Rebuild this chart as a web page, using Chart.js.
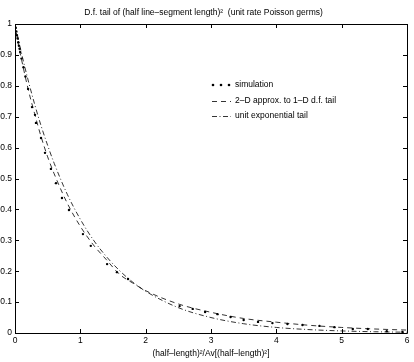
<!DOCTYPE html>
<html>
<head>
<meta charset="utf-8">
<script src="https://cdn.jsdelivr.net/npm/chart.js@4/dist/chart.umd.min.js"></script>
<style>
  html, body { margin: 0; padding: 0; background: #fff; }
</style>
</head>
<body>
<canvas id="chart" width="414" height="362"></canvas>
<script>
// values
const simX = [0, 0.01, 0.02, 0.03, 0.04, 0.05, 0.06, 0.07, 0.08, 0.10, 0.13, 0.16, 0.20,
  0.26, 0.306, 0.321, 0.398, 0.459, 0.55, 0.627, 0.719, 0.826, 1.04, 1.16, 1.41, 1.56, 1.73,
  2.52, 2.72, 2.91, 3.10, 3.30, 3.50, 3.72, 3.94, 4.17, 4.40, 4.66, 4.89, 5.17, 5.40, 5.69, 5.93];
const simY = [1, 0.988, 0.976, 0.964, 0.953, 0.941, 0.93, 0.92, 0.909, 0.888, 0.86, 0.83, 0.79,
  0.731, 0.706, 0.68, 0.631, 0.583, 0.531, 0.485, 0.437, 0.398, 0.32, 0.282, 0.223, 0.197, 0.175,
  0.087, 0.078, 0.068, 0.061, 0.052, 0.042, 0.036, 0.032, 0.029, 0.026, 0.023, 0.019, 0.013, 0.013, 0.006, 0.003];

const approxX = [0, 0.05, 0.1, 0.2, 0.3, 0.4, 0.5, 0.6, 0.8, 1.0, 1.2, 1.4, 1.6, 1.8, 2.0, 2.5, 3.0, 3.5, 4.0, 4.5, 5.0, 5.5, 6.0];
const approxY = [1, 0.935, 0.885, 0.79, 0.71, 0.635, 0.57, 0.515, 0.42, 0.345, 0.285, 0.237, 0.19, 0.162, 0.137, 0.094, 0.067, 0.047, 0.035, 0.025, 0.018, 0.013, 0.0095];

const expX = [0, 0.1, 0.2, 0.3, 0.4, 0.5, 0.6, 0.8, 1.0, 1.2, 1.4, 1.6, 1.8, 2.0, 2.5, 3.0, 3.5, 4.0, 4.5, 5.0, 5.5, 6.0];
const expY = [1, 0.905, 0.819, 0.741, 0.67, 0.607, 0.549, 0.449, 0.368, 0.301, 0.247, 0.202, 0.165, 0.135, 0.082, 0.05, 0.03, 0.018, 0.011, 0.0067, 0.0041, 0.0025];

const xTicks = [0, 1, 2, 3, 4, 5, 6];
const yTicks = [0, 0.1, 0.2, 0.3, 0.4, 0.5, 0.6, 0.7, 0.8, 0.9, 1];
const yTickLabels = ['0', '0.1', '0.2', '0.3', '0.4', '0.5', '0.6', '0.7', '0.8', '0.9', '1'];

const seriesLabels = ['simulation', '2–D approx. to 1–D d.f. tail', 'unit exponential tail'];

const FONT = 'Liberation Sans, Arial, sans-serif';
const toPts = (xs, ys) => xs.map((v, i) => ({ x: v, y: ys[i] }));

// box around the axes with inward ticks, MATLAB style
const boxTicks = {
  id: 'boxTicks',
  afterDatasetsDraw(chart) {
    const { ctx, chartArea: a, scales: { x, y } } = chart;
    const len = 4;
    ctx.save();
    ctx.strokeStyle = '#000';
    ctx.lineWidth = 1;
    ctx.beginPath();
    ctx.rect(Math.round(a.left) + 0.5, Math.round(a.top) + 0.5,
      Math.round(a.right - a.left), Math.round(a.bottom - a.top));
    xTicks.forEach(v => {
      const px = Math.round(x.getPixelForValue(v)) + 0.5;
      ctx.moveTo(px, a.bottom); ctx.lineTo(px, a.bottom - len);
      ctx.moveTo(px, a.top); ctx.lineTo(px, a.top + len);
    });
    yTicks.forEach(v => {
      const py = Math.round(y.getPixelForValue(v)) + 0.5;
      ctx.moveTo(a.left, py); ctx.lineTo(a.left + len, py);
      ctx.moveTo(a.right, py); ctx.lineTo(a.right - len, py);
    });
    ctx.stroke();
    ctx.restore();
  }
};

// legend inside the plot
const innerLegend = {
  id: 'innerLegend',
  afterDraw(chart) {
    const { ctx } = chart;
    const x0 = 212, x1 = 231, tx = 235;
    const rows = [85, 101, 116];
    ctx.save();
    ctx.fillStyle = '#000';
    ctx.strokeStyle = '#000';
    ctx.font = '8.5px ' + FONT;
    ctx.textBaseline = 'middle';
    chart.data.datasets.forEach((ds, i) => {
      const yy = rows[i];
      if (i === 0) {
        [x0 + 1, x0 + 9, x0 + 17].forEach(cx => {
          ctx.beginPath(); ctx.arc(cx, yy, 1.3, 0, Math.PI * 2); ctx.fill();
        });
      } else {
        ctx.lineWidth = 0.8;
        ctx.setLineDash(ds.borderDash);
        ctx.beginPath(); ctx.moveTo(x0, yy + 0.5); ctx.lineTo(x1, yy + 0.5); ctx.stroke();
        ctx.setLineDash([]);
      }
      ctx.fillText(ds.label, tx, yy);
    });
    ctx.restore();
  }
};

new Chart(document.getElementById('chart'), {
  type: 'scatter',
  data: {
    datasets: [{
      label: seriesLabels[0],
      data: toPts(simX, simY),
      showLine: false,
      pointRadius: 1.2,
      pointBackgroundColor: '#000',
      pointBorderWidth: 0
    }, {
      label: seriesLabels[1],
      data: toPts(approxX, approxY),
      showLine: true,
      borderColor: '#000',
      borderWidth: 0.8,
      borderDash: [5, 4],
      cubicInterpolationMode: 'monotone',
      pointRadius: 0
    }, {
      label: seriesLabels[2],
      data: toPts(expX, expY),
      showLine: true,
      borderColor: '#000',
      borderWidth: 0.8,
      borderDash: [5, 2.5, 1, 2.5],
      cubicInterpolationMode: 'monotone',
      pointRadius: 0
    }]
  },
  options: {
    responsive: false,
    animation: false,
    layout: { padding: { left: 0, right: 7, top: 0, bottom: 0 } },
    plugins: {
      legend: { display: false },
      tooltip: { enabled: false },
      title: {
        display: true,
        text: 'D.f. tail of (half line–segment length)²  (unit rate Poisson germs)',
        color: '#000',
        font: { family: FONT, size: 8.5, weight: 'normal' },
        padding: { top: 8, bottom: 5.8 }
      }
    },
    scales: {
      x: {
        type: 'linear',
        min: 0, max: 6,
        afterFit: s => { s.height = 29; },
        afterBuildTicks: s => { s.ticks = xTicks.map(v => ({ value: v })); },
        grid: { display: false, drawTicks: false },
        border: { display: false },
        ticks: {
          color: '#000', padding: 3, font: { family: FONT, size: 8.5 },
          callback: v => String(v)
        },
        title: {
          display: true,
          text: '(half–length)²/Av[(half–length)²]',
          color: '#000',
          font: { family: FONT, size: 8.5 },
          padding: { top: 0, bottom: 3 }
        }
      },
      y: {
        type: 'linear',
        min: 0, max: 1,
        afterFit: s => { s.width = 15; },
        afterBuildTicks: s => { s.ticks = yTicks.map(v => ({ value: v })); },
        grid: { display: false, drawTicks: false },
        border: { display: false },
        ticks: {
          color: '#000', padding: 3, font: { family: FONT, size: 8.5 },
          callback: (v, i) => yTickLabels[i]
        }
      }
    }
  },
  plugins: [boxTicks, innerLegend]
});
</script>
</body>
</html>
